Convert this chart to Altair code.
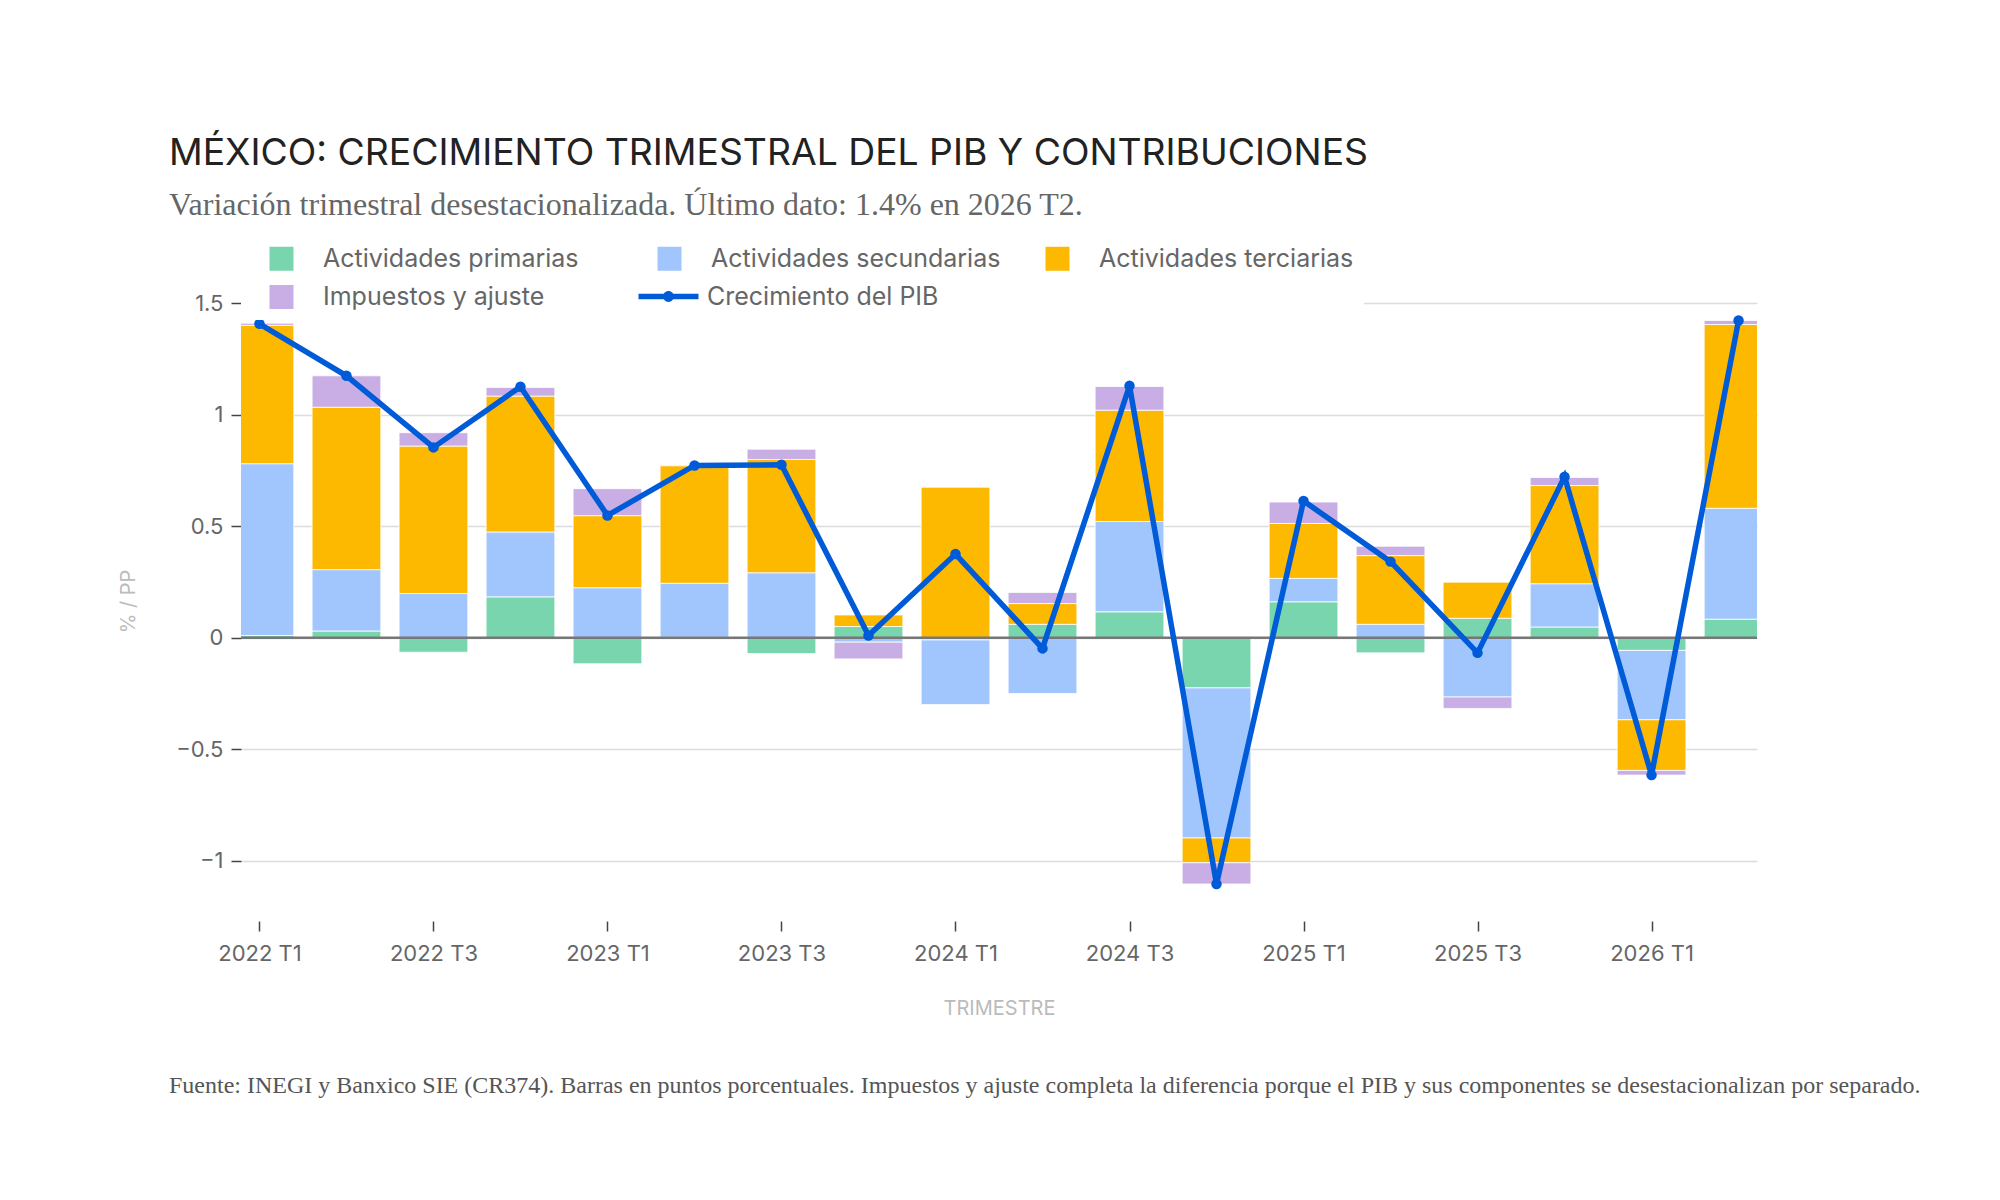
import altair as alt
import pandas as pd

# ---------------- data ----------------
trimestres = ["2022 T1", "2022 T2", "2022 T3", "2022 T4",
              "2023 T1", "2023 T2", "2023 T3", "2023 T4",
              "2024 T1", "2024 T2", "2024 T3", "2024 T4",
              "2025 T1", "2025 T2", "2025 T3", "2025 T4",
              "2026 T1", "2026 T2"]

primarias = [0.01, 0.03, -0.065, 0.183, -0.117, 0.002, -0.071, 0.05, -0.01,
             0.06, 0.116, -0.225, 0.161, -0.068, 0.087, 0.048, -0.057, 0.083]
secundarias = [0.77, 0.275, 0.198, 0.291, 0.224, 0.242, 0.291, -0.02, -0.29,
               -0.25, 0.405, -0.673, 0.105, 0.06, -0.266, 0.194, -0.311, 0.497]
terciarias = [0.62, 0.728, 0.661, 0.609, 0.323, 0.527, 0.508, 0.052, 0.676,
              0.093, 0.499, -0.111, 0.246, 0.308, 0.162, 0.44, -0.227, 0.824]
impuestos = [0.01, 0.141, 0.06, 0.039, 0.121, 0.003, 0.046, -0.075, 0.0,
             0.05, 0.106, -0.095, 0.096, 0.042, -0.051, 0.036, -0.021, 0.018]
pib = [1.407, 1.174, 0.853, 1.125, 0.548, 0.772, 0.775, 0.01, 0.375,
       -0.048, 1.129, -1.104, 0.613, 0.341, -0.068, 0.721, -0.616, 1.422]

componentes = ["Actividades primarias", "Actividades secundarias",
               "Actividades terciarias", "Impuestos y ajuste"]
serie_pib = "Crecimiento del PIB"
colores = ["#78D5AE", "#A1C6FD", "#FDB800", "#C8AEE4"]
color_pib = "#005BD8"
y_ticks = [-1, -0.5, 0, 0.5, 1, 1.5]

titulo = "MÉXICO: CRECIMIENTO TRIMESTRAL DEL PIB Y CONTRIBUCIONES"
subtitulo = "Variación trimestral desestacionalizada. Último dato: 1.4% en 2026 T2."
fuente = ("Fuente: INEGI y Banxico SIE (CR374). Barras en puntos porcentuales. "
          "Impuestos y ajuste completa la diferencia porque el PIB y sus "
          "componentes se desestacionalizan por separado.")

# ---------------- tables ----------------
rows = []
for i, t in enumerate(trimestres):
    for k, (nombre, serie) in enumerate(zip(componentes, [primarias, secundarias, terciarias, impuestos])):
        rows.append({"idx": i, "trimestre": t, "componente": nombre, "orden": k, "valor": serie[i]})
barras_df = pd.DataFrame(rows)
pib_df = pd.DataFrame({"idx": list(range(len(trimestres))), "trimestre": trimestres,
                       "pib": pib, "serie": [serie_pib] * len(trimestres)})

FONT = "Inter"
SERIF = "Liberation Serif"

x_scale = alt.Scale(domain=[-0.212, len(trimestres) - 1 + 0.212], nice=False, zero=False)
y_scale = alt.Scale(domain=[-1.27, 1.59], nice=False, zero=False)

labels_js = "[" + ",".join("'%s'" % t for t in trimestres) + "]"

x_axis = alt.Axis(values=list(range(0, len(trimestres), 2)),
                  labelExpr=labels_js + "[datum.value]",
                  title="TRIMESTRE", grid=False, domain=False,
                  tickSize=10, tickColor="#444", tickWidth=1.5,
                  labelPadding=12, labelFontSize=22, labelColor="#666", labelFont=FONT,
                  labelOverlap=False, labelFlush=False,
                  titleFont=FONT, titleFontSize=20, titleColor="#bbb",
                  titleFontWeight="normal", titleY=87, titleBaseline="middle")

y_axis = alt.Axis(values=y_ticks,
                  labelExpr="replace(format(datum.value, '~g'), '-', '\u2212')",
                  title="% / PP", grid=True, gridColor="#dcdcdc", gridWidth=1.5,
                  domain=False, tickSize=10, tickColor="#444", tickWidth=1.5,
                  labelPadding=8, labelFontSize=22, labelColor="#666", labelFont=FONT,
                  titleFont=FONT, titleFontSize=20, titleColor="#bbb",
                  titleFontWeight="normal", titleX=-113, titleY=318,
                  titleAlign="center", titleBaseline="middle", titleAngle=270)

PIB_PATH = ("M-2.5,-0.22L2.5,-0.22L2.5,0.22L-2.5,0.22Z"
            "M-0.45,0A0.45,0.45,0,1,1,0.45,0A0.45,0.45,0,1,1,-0.45,0Z")

legend_barras = alt.Legend(title=None, orient="none", legendX=0, legendY=-47,
                           direction="horizontal", columns=3, gridAlign="all",
                           columnPadding=26, rowPadding=12.5,
                           symbolSize=576, symbolType="square", symbolStrokeWidth=0,
                           symbolOffset=18, labelOffset=29, labelLimit=500,
                           labelFontSize=25, labelFont=FONT, labelColor="#666",
                           fillColor="white", padding=10, zindex=1)

legend_pib = alt.Legend(title=None, orient="none", legendX=415, legendY=1,
                        symbolSize=576, symbolType=PIB_PATH, symbolStrokeWidth=0,
                        symbolOpacity=1, labelOffset=26, labelLimit=500,
                        labelFontSize=25, labelFont=FONT, labelColor="#666",
                        padding=0, zindex=2)

bars = alt.Chart(barras_df).transform_stack(
    stack="valor", groupby=["idx"], as_=["y0", "y1"],
    sort=[alt.SortField("orden", order="ascending")]
).transform_calculate(
    x0="datum.idx - 0.395", x1="datum.idx + 0.395"
).mark_bar(clip=True, stroke="white", strokeWidth=0.8).encode(
    x=alt.X("x0:Q", scale=x_scale, axis=x_axis),
    x2="x1:Q",
    y=alt.Y("y0:Q", scale=y_scale, axis=y_axis),
    y2="y1:Q",
    color=alt.Color("componente:N",
                    scale=alt.Scale(domain=componentes, range=colores),
                    sort=componentes,
                    legend=legend_barras),
)

cero = alt.Chart(pd.DataFrame({"cero": [0]})).mark_rule(color="#777", strokeWidth=2.5).encode(
    y=alt.Y("cero:Q", scale=y_scale, axis=y_axis)
)

linea = alt.Chart(pib_df).mark_line(color=color_pib, strokeWidth=5.5).encode(
    x=alt.X("idx:Q", scale=x_scale, axis=x_axis),
    y=alt.Y("pib:Q", scale=y_scale, axis=y_axis),
)
puntos = alt.Chart(pib_df).mark_circle(size=110, opacity=1).encode(
    x=alt.X("idx:Q", scale=x_scale, axis=x_axis),
    y=alt.Y("pib:Q", scale=y_scale, axis=y_axis),
    fill=alt.Fill("serie:N", scale=alt.Scale(domain=[serie_pib], range=[color_pib]),
                  legend=legend_pib),
)

nota = alt.Chart(pd.DataFrame({"t": [fuente]})).mark_text(
    align="left", baseline="alphabetic", font=SERIF, fontSize=24, color="#555"
).encode(text="t:N", x=alt.value(-72), y=alt.value(810))

chart = alt.layer(bars, cero, linea, puntos, nota).properties(
    width=1516, height=638,
    autosize=alt.AutoSizeParams(type="none"),
    padding={"left": 233, "top": 275, "right": 235, "bottom": 270},
    title=alt.TitleParams(text=titulo, subtitle=subtitulo, anchor="start", frame="group",
                          dx=-72, font=FONT, fontSize=37.3, fontWeight="normal", color="#222",
                          subtitleFont=SERIF, subtitleFontSize=32, subtitleColor="#666",
                          subtitlePadding=17, offset=14),
).configure_view(stroke=None)

chart.save("out.html", embed_options={"renderer": "svg", "actions": False})
